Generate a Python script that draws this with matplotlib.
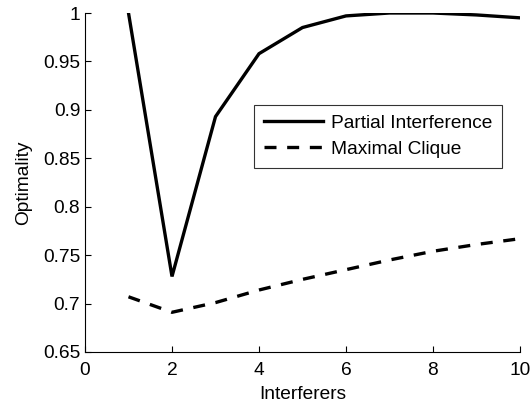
import matplotlib
matplotlib.use("Agg")
import matplotlib.pyplot as plt

plt.rcParams['font.family'] = ['Liberation Sans', 'DejaVu Sans']

x = [1, 2, 3, 4, 5, 6, 7, 8, 9, 10]
partial = [1.0, 0.728, 0.893, 0.958, 0.985, 0.997, 1.0, 1.0, 0.998, 0.995]
clique = [0.707, 0.691, 0.701, 0.714, 0.725, 0.735, 0.745, 0.754, 0.761, 0.767]
xticks = [0, 2, 4, 6, 8, 10]
yticks = [0.65, 0.7, 0.75, 0.8, 0.85, 0.9, 0.95, 1.0]
ytick_labels = ['0.65', '0.7', '0.75', '0.8', '0.85', '0.9', '0.95', '1']

fs = 13.8
fig = plt.figure(figsize=(5.31, 4.04), dpi=100)
ax = fig.add_axes([85/531, 1 - 352/404, (520-85)/531, (352-13)/404])
ax.plot(x, partial, color='black', lw=2.4, label='Partial Interference', solid_joinstyle='miter')
ax.plot(x, clique, color='black', lw=2.4, dashes=(3.6, 3.2), label='Maximal Clique')
ax.set_xlim(0, 10)
ax.set_ylim(0.65, 1.0)
ax.set_xticks(xticks)
ax.set_yticks(yticks)
ax.set_yticklabels(ytick_labels)
ax.spines['top'].set_visible(False)
ax.spines['right'].set_visible(False)
for s in ['left', 'bottom']:
    ax.spines[s].set_linewidth(0.8)
ax.tick_params(direction='in', length=4, width=0.8, labelsize=fs)
ax.tick_params(axis='y', pad=3.5)
ax.tick_params(axis='x', pad=7)
ax.set_xlabel('Interferers', fontsize=fs, labelpad=5.5)
ax.set_ylabel('Optimality', fontsize=fs, labelpad=8)
leg = ax.legend(loc='upper left', bbox_to_anchor=((254-85)/435, 1 - (105-13)/339),
                fontsize=fs, frameon=True, fancybox=False, edgecolor='black',
                handlelength=3.1, borderpad=0.5, labelspacing=0.45, handletextpad=0.4,
                borderaxespad=0)
leg.get_frame().set_linewidth(0.8)
fig.savefig('out.png', dpi=100)
